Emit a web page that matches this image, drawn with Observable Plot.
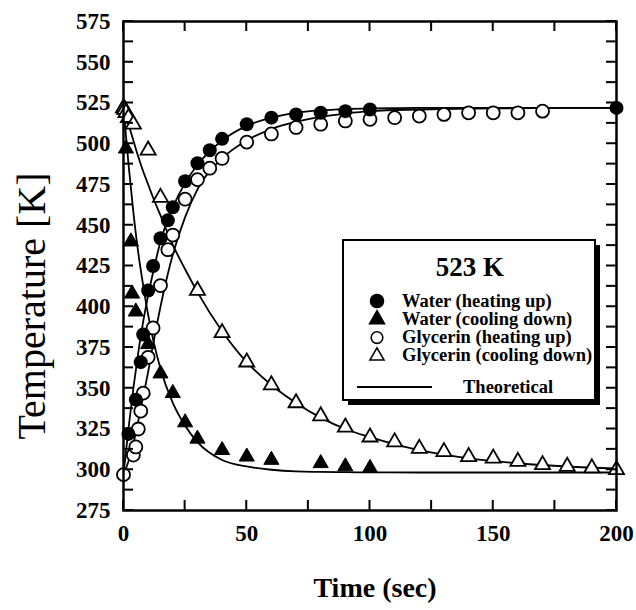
<!DOCTYPE html>
<html><head><meta charset="utf-8">
<script src="https://cdn.jsdelivr.net/npm/d3@7"></script>
<script src="https://cdn.jsdelivr.net/npm/@observablehq/plot@0.6"></script>
<style>body{margin:0;background:#fff}#chart{width:636px;height:610px}</style>
</head><body><div id="chart"></div>
<script>
// ---- measured points ----
const waterHeatTime = [2, 5, 7, 8, 10, 12, 15, 18, 20, 25, 30, 35, 40, 50, 60, 70, 80, 90, 100, 200];
const waterHeatTemp = [322, 343, 366, 383, 410, 425, 442, 453, 461, 477, 488, 496, 503, 512, 516, 518, 519, 520, 521, 522];

const waterCoolTime = [1, 3, 3.5, 5, 10, 15, 20, 25, 30, 40, 50, 60, 80, 90, 100];
const waterCoolTemp = [497, 440, 408, 397, 377, 359, 347, 329, 319, 312, 308, 306, 304, 302, 301];

const glyHeatTime = [0, 4, 5, 6, 7, 8, 10, 12, 15, 18, 20, 25, 30, 35, 40, 50, 60, 70, 80, 90, 100, 110, 120, 130, 140, 150, 160, 170];
const glyHeatTemp = [297, 309, 314, 325, 336, 347, 369, 387, 413, 435, 444, 466, 478, 485, 491, 501, 506, 510, 512, 514, 515, 516, 517, 518, 519, 519, 519, 520];

const glyCoolTime = [0, 0.5, 1, 2, 4, 10, 15, 30, 40, 50, 60, 70, 80, 90, 100, 110, 120, 130, 140, 150, 160, 170, 180, 190, 200];
const glyCoolTemp = [522, 521, 519, 516, 512, 496, 467, 410, 384, 366, 352, 341, 333, 326, 320, 317, 313, 311, 308, 307, 305, 303, 302, 301, 300];

// ---- theoretical curves ----
const theoryTime        = [0, 2, 4, 6, 8, 10, 12, 15, 20, 25, 30, 40, 50, 60, 70, 80, 90, 100, 120, 140, 160, 180, 200];
const theoryWaterHeat   = [297, 325, 350, 372, 391, 407, 421, 440, 461, 476, 487, 502, 511, 516, 519, 520.5, 521.3, 521.7, 522, 522, 522, 522, 522];
const theoryGlyHeat     = [297, 305, 316, 330, 345, 360, 377, 400, 432, 455, 472, 491, 502, 509, 513.5, 516.5, 518.5, 520, 521, 521.5, 521.8, 522, 522];
const theoryWaterCool   = [522, 488, 458, 433, 413, 395, 380, 362, 341, 327, 317, 306, 302, 300, 299, 298.7, 298.5, 298.4, 298.3, 298.3, 298.3, 298.3, 298.3];
const theoryGlyCool     = [522, 512, 502, 492, 483, 475, 467, 456, 438, 423, 409, 385, 366, 352, 341, 332, 325, 320, 312, 307, 304, 302, 300.8];

// ---- axes ----
const xTicks = [0, 25, 50, 75, 100, 125, 150, 175, 200];
const xLabels = [0, 50, 100, 150, 200];
const yTicks = d3.range(275, 575.1, 12.5);
const yLabels = [275, 300, 325, 350, 375, 400, 425, 450, 475, 500, 525, 550, 575];

// ---- legend ----
const legendTitle = "523 K";
const legendLabels = ["Water (heating up)", "Water (cooling down)", "Glycerin (heating up)", "Glycerin (cooling down)"];
const legendTheory = "Theoretical";
const xTitle = "Time (sec)";
const yTitle = "Temperature [K]";

const zip = (t, v) => t.map((d, i) => ({t: d, v: v[i]}));
const serif = "'Liberation Serif', 'Times New Roman', serif";

const W = 636, H = 610, mL = 123, mR = 20, mT = 21, mB = 100, tick = 10;
const innerW = W - mL - mR, innerH = H - mT - mB;

const curveOpts = {x: "t", y: "v", stroke: "black", strokeWidth: 1.8, curve: "monotone-x"};

const chart = Plot.plot({
  width: W, height: H,
  marginLeft: mL, marginRight: mR, marginTop: mT, marginBottom: mB,
  style: {fontFamily: serif, fontWeight: "bold", fontSize: "23px", background: "white", color: "black"},
  x: {domain: [0, 200]},
  y: {domain: [275, 575]},
  marks: [
    Plot.line(zip(theoryTime, theoryWaterHeat), curveOpts),
    Plot.line(zip(theoryTime, theoryGlyHeat), curveOpts),
    Plot.line(zip(theoryTime, theoryWaterCool), curveOpts),
    Plot.line(zip(theoryTime, theoryGlyCool), curveOpts),
    Plot.dot(zip(glyCoolTime, glyCoolTemp), {x: "t", y: "v", symbol: "triangle", r: 5.6, fill: "white", stroke: "black", strokeWidth: 1.8}),
    Plot.dot(zip(glyHeatTime, glyHeatTemp), {x: "t", y: "v", symbol: "circle", r: 6.5, fill: "white", stroke: "black", strokeWidth: 1.8}),
    Plot.dot(zip(waterCoolTime, waterCoolTemp), {x: "t", y: "v", symbol: "triangle", r: 5.6, fill: "black", stroke: "black", strokeWidth: 1}),
    Plot.dot(zip(waterHeatTime, waterHeatTemp), {x: "t", y: "v", symbol: "circle", r: 7, fill: "black"}),
    Plot.frame({stroke: "black", strokeWidth: 2.5}),
    Plot.axisX(xLabels, {anchor: "bottom", tickSize: 0, tickPadding: 14, label: null, fontSize: 23, fontWeight: "bold"}),
    Plot.axisY(yLabels, {anchor: "left", tickSize: 0, tickPadding: 13, label: null, fontSize: 23, fontWeight: "bold"}),
    Plot.text([xTitle], {text: d => d, frameAnchor: "bottom", textAnchor: "middle", dx: 5, dy: 86, fontSize: 28, fontWeight: "bold"}),
    Plot.text([yTitle], {text: d => d, frameAnchor: "left", textAnchor: "middle", rotate: -90, dx: -91, dy: 40, fontSize: 40, fontWeight: "normal"})
  ]
});
document.getElementById("chart").appendChild(chart);

const svg = d3.select(chart);
const sx = chart.scale("x"), sy = chart.scale("y");
const x0 = mL, x1 = W - mR, y0 = mT, y1 = H - mB;

// inward ticks on all four sides, placed through the plot's own scales
const tg = svg.append("g").attr("stroke", "black").attr("stroke-width", 2);
yTicks.forEach(v => {
  const py = sy.apply(v);
  tg.append("line").attr("x1", x0).attr("x2", x0 + tick).attr("y1", py).attr("y2", py);
  tg.append("line").attr("x1", x1 - tick).attr("x2", x1).attr("y1", py).attr("y2", py);
});
xTicks.forEach(v => {
  const px = sx.apply(v);
  tg.append("line").attr("x1", px).attr("x2", px).attr("y1", y1 - tick).attr("y2", y1);
  tg.append("line").attr("x1", px).attr("x2", px).attr("y1", y0).attr("y2", y0 + tick);
});

// legend box drawn inside the plot area
const lg = svg.append("g").attr("font-family", serif).attr("font-weight", "bold").attr("fill", "black").attr("text-anchor", "start");
const bx = 343, by = 240, bw = 252, bh = 160;
lg.append("rect").attr("x", bx + 5).attr("y", by + 5).attr("width", bw).attr("height", bh).attr("fill", "black");
lg.append("rect").attr("x", bx).attr("y", by).attr("width", bw).attr("height", bh).attr("fill", "white").attr("stroke", "black").attr("stroke-width", 2);
lg.append("text").attr("x", bx + 127).attr("y", by + 36).attr("text-anchor", "middle").attr("font-size", 27).text(legendTitle);
const syms = [
  {s: d3.symbolCircle, r: 6.5, fill: "black", stroke: "black"},
  {s: d3.symbolTriangle, r: 5.5, fill: "black", stroke: "black"},
  {s: d3.symbolCircle, r: 5.8, fill: "white", stroke: "black"},
  {s: d3.symbolTriangle, r: 5.2, fill: "white", stroke: "black"}
];
legendLabels.forEach((lab, i) => {
  const cy = by + 61 + i * 18.3;
  const s = syms[i];
  lg.append("path").attr("d", d3.symbol(s.s, s.r * s.r * Math.PI)())
    .attr("transform", `translate(${bx + 34},${cy})`)
    .attr("fill", s.fill).attr("stroke", s.stroke).attr("stroke-width", 1.6);
  lg.append("text").attr("x", bx + 59).attr("y", cy + 5.5).attr("font-size", 18.5).text(lab);
});
lg.append("line").attr("x1", bx + 14).attr("x2", bx + 89).attr("y1", by + 147).attr("y2", by + 147).attr("stroke", "black").attr("stroke-width", 1.8);
lg.append("text").attr("x", bx + 120).attr("y", by + 153).attr("font-size", 18.5).text(legendTheory);
</script>
</body></html>
